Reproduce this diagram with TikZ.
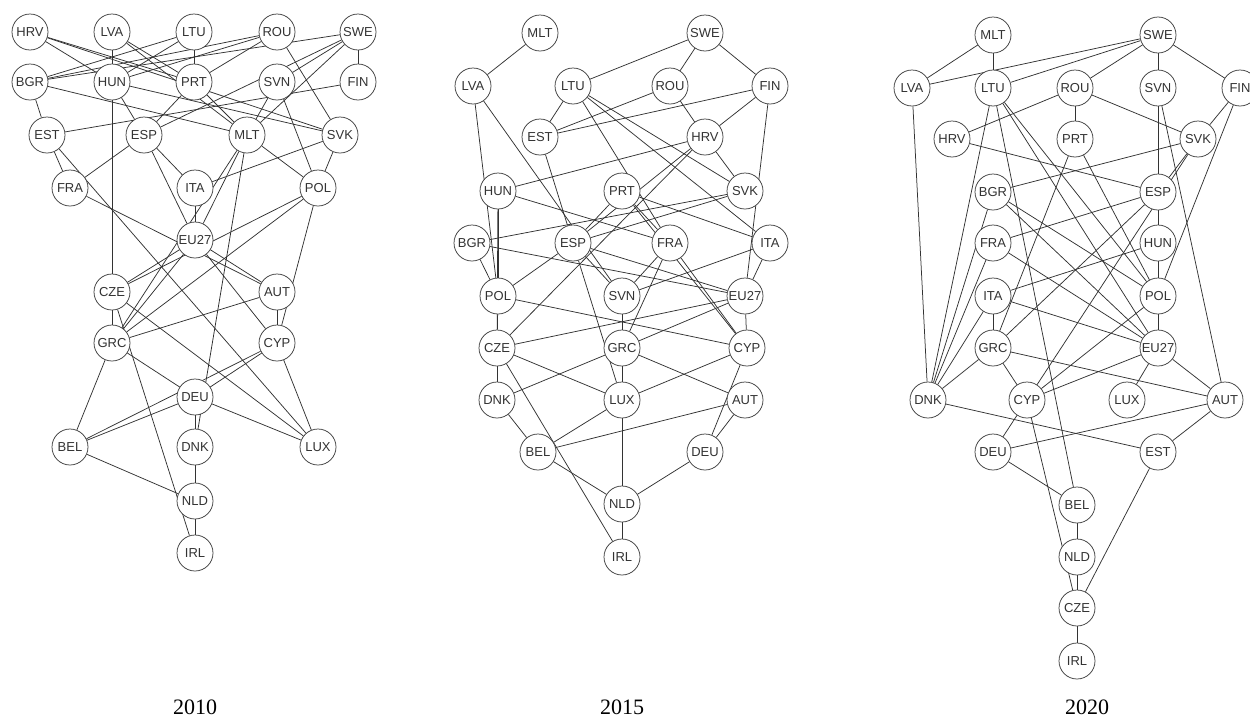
\documentclass[tikz,border=0pt]{standalone}
\usepackage{fontspec}
\setmainfont{Liberation Serif}
\newfontfamily\nodefont{Liberation Sans}
\pgfdeclarelayer{bg}
\pgfsetlayers{bg,main}
\begin{document}
\begin{tikzpicture}[x=1pt,y=-1pt,
  cn/.style={circle,draw=black!75,line width=0.75pt,fill=white,minimum size=36pt,inner sep=0pt,
    font=\nodefont\fontsize{13}{13}\selectfont,text=black!80},
  ed/.style={draw=black!80,line width=0.75pt},
  yr/.style={font=\fontsize{22}{22}\selectfont,inner sep=0pt}]
\useasboundingbox (0,0) rectangle (1250,718);
% ---------- 2010 ----------
\foreach \n/\x/\y in {HRV/30/32,LVA/112/32,LTU/194/32,ROU/277/32,SWE/358/32,
  BGR/30/82,HUN/112/82,PRT/194/82,SVN/277/82,FIN/358/82,
  EST/47/135,ESP/144/135,MLT/247/135,SVK/340/135,
  FRA/70/188,ITA/195/188,POL/318/188,EU27/195/240,
  CZE/112/292,AUT/277/292,GRC/112/343,CYP/277/343,DEU/195/397,
  BEL/70/447,DNK/195/447,LUX/318/447,NLD/195/501,IRL/195/553}
  \node[cn] (a\n) at (\x,\y) {\n};
\begin{pgfonlayer}{bg}
\foreach \u/\v in {HRV/HUN,HRV/PRT,HRV/SVK,LVA/HUN,LVA/PRT,LVA/MLT,
  LTU/BGR,LTU/HUN,LTU/PRT,ROU/BGR,ROU/HUN,ROU/PRT,ROU/SVK,
  SWE/BGR,SWE/FIN,SWE/SVN,SWE/ESP,SWE/MLT,
  BGR/EST,BGR/MLT,HUN/ESP,HUN/SVK,HUN/GRC,PRT/ESP,PRT/MLT,
  SVN/MLT,SVN/POL,FIN/EST,EST/FRA,EST/LUX,
  ESP/FRA,ESP/ITA,ESP/EU27,MLT/EU27,MLT/GRC,MLT/DNK,MLT/POL,
  SVK/ITA,SVK/POL,FRA/AUT,ITA/EU27,POL/CZE,POL/GRC,POL/CYP,
  EU27/CZE,EU27/AUT,EU27/GRC,EU27/CYP,CZE/GRC,CZE/LUX,CZE/IRL,
  AUT/CYP,AUT/GRC,GRC/DEU,GRC/BEL,CYP/DEU,CYP/LUX,CYP/BEL,
  DEU/BEL,DEU/DNK,DEU/LUX,BEL/NLD,DNK/NLD,NLD/IRL}
  \draw[ed] (a\u) -- (a\v);
\end{pgfonlayer}
% ---------- 2015 ----------
\foreach \n/\x/\y in {MLT/540/33,SWE/705/33,
  LVA/473/86,LTU/573/86,ROU/670/86,FIN/770/86,
  EST/540/137,HRV/705/137,
  HUN/498/191,PRT/622/191,SVK/745/191,
  BGR/472/243,ESP/573/243,FRA/670/243,ITA/770/243,
  POL/498/296,SVN/622/296,EU27/745/296,
  CZE/497/348,GRC/622/348,CYP/747/348,
  DNK/497/400,LUX/622/400,AUT/745/400,
  BEL/538/452,DEU/705/452,NLD/622/504,IRL/622/557}
  \node[cn] (b\n) at (\x,\y) {\n};
\begin{pgfonlayer}{bg}
\foreach \u/\v in {MLT/LVA,SWE/LTU,SWE/ROU,SWE/FIN,
  LVA/POL,LVA/SVN,LTU/EST,LTU/FRA,LTU/ITA,LTU/SVK,
  ROU/EST,ROU/HRV,FIN/EST,FIN/HRV,FIN/EU27,EST/ESP,
  HRV/HUN,HRV/SVK,HRV/ESP,HRV/CZE,
  HUN/FRA,HUN/POL,HUN/CZE,PRT/FRA,PRT/CYP,PRT/ITA,PRT/ESP,
  SVK/BGR,SVK/ESP,BGR/POL,BGR/EU27,
  ESP/POL,ESP/SVN,ESP/LUX,ESP/EU27,FRA/SVN,FRA/GRC,FRA/CYP,
  ITA/SVN,ITA/EU27,POL/CZE,POL/CYP,SVN/GRC,
  EU27/CZE,EU27/GRC,EU27/CYP,CZE/DNK,CZE/LUX,CZE/IRL,
  GRC/DNK,GRC/LUX,GRC/AUT,CYP/LUX,CYP/DEU,DNK/BEL,
  LUX/BEL,LUX/NLD,AUT/BEL,AUT/DEU,BEL/NLD,DEU/NLD,NLD/IRL}
  \draw[ed] (b\u) -- (b\v);
\end{pgfonlayer}
% ---------- 2020 ----------
\foreach \n/\x/\y in {MLT/993/35,SWE/1158/35,
  LVA/912/88,LTU/993/88,ROU/1075/88,SVN/1158/88,FIN/1240/88,
  HRV/952/139,PRT/1075/139,SVK/1198/139,
  BGR/993/192,ESP/1158/192,FRA/993/243,HUN/1158/243,
  ITA/993/296,POL/1158/296,GRC/993/348,EU27/1158/348,
  DNK/928/400,CYP/1027/400,LUX/1127/400,AUT/1225/400,
  DEU/993/452,EST/1158/452,BEL/1077/505,NLD/1077/557,
  CZE/1077/608,IRL/1077/661}
  \node[cn] (c\n) at (\x,\y) {\n};
\begin{pgfonlayer}{bg}
\foreach \u/\v in {MLT/LVA,MLT/LTU,SWE/LVA,SWE/LTU,SWE/ROU,SWE/SVN,SWE/FIN,
  LVA/DNK,LTU/DNK,LTU/BEL,LTU/POL,LTU/EU27,
  ROU/HRV,ROU/PRT,ROU/SVK,SVN/ESP,SVN/AUT,FIN/SVK,FIN/POL,
  HRV/ESP,PRT/GRC,PRT/POL,SVK/BGR,SVK/ESP,SVK/CYP,
  BGR/DNK,BGR/POL,BGR/EU27,ESP/FRA,ESP/HUN,ESP/GRC,
  FRA/EU27,FRA/DNK,HUN/ITA,HUN/POL,ITA/EU27,ITA/GRC,ITA/DNK,
  POL/EU27,POL/CYP,GRC/DNK,GRC/CYP,GRC/AUT,
  EU27/LUX,EU27/AUT,EU27/CYP,DNK/EST,CYP/DEU,CYP/CZE,
  AUT/DEU,AUT/EST,DEU/BEL,EST/CZE,BEL/NLD,NLD/CZE,CZE/IRL}
  \draw[ed] (c\u) -- (c\v);
\end{pgfonlayer}
% ---------- years ----------
\node[yr] (ya) at (195,707) {2010};
\node[yr] (yb) at (622,707) {2015};
\node[yr] (yc) at (1087,707) {2020};
\end{tikzpicture}
\end{document}
